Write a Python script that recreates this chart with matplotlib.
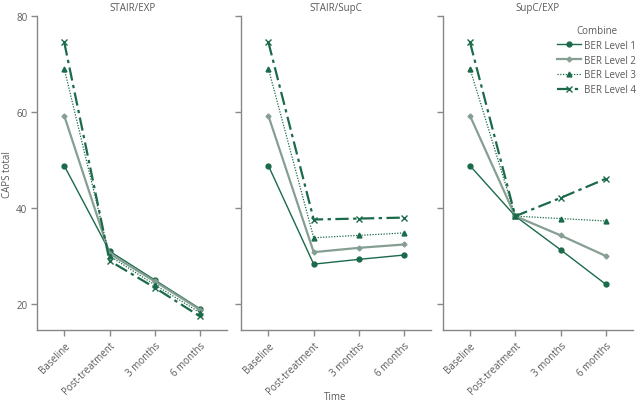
import matplotlib
matplotlib.use("Agg")
import matplotlib.pyplot as plt

plt.rcParams["font.family"] = ["Open Sans", "DejaVu Sans"]

# data
panels = ["STAIR/EXP", "STAIR/SupC", "SupC/EXP"]
times = ["Baseline", "Post-treatment", "3 months", "6 months"]
levels = ["BER Level 1", "BER Level 2", "BER Level 3", "BER Level 4"]

stair_exp = [
    [48.8, 31.0, 25.0, 19.0],
    [59.2, 30.5, 24.7, 18.8],
    [69.0, 30.0, 24.0, 18.2],
    [74.5, 29.0, 23.4, 17.4],
]
stair_supc = [
    [48.8, 28.3, 29.3, 30.2],
    [59.2, 30.8, 31.7, 32.4],
    [69.0, 33.8, 34.3, 34.8],
    [74.5, 37.6, 37.8, 38.0],
]
supc_exp = [
    [48.8, 38.3, 31.3, 24.1],
    [59.2, 38.3, 34.3, 30.0],
    [69.0, 38.3, 37.8, 37.3],
    [74.5, 38.3, 42.1, 46.1],
]
all_data = [stair_exp, stair_supc, supc_exp]

# styles
dark = "#1b6a4a"
light = "#869f93"
txt = "#5a5a5a"
styles = [
    dict(color=dark, ls="-", lw=1.0, marker="o", ms=3.5),
    dict(color=light, ls="-", lw=1.6, marker="D", ms=2.5),
    dict(color=dark, ls=(0, (1, 1.2)), lw=0.9, marker="^", ms=3.5),
    dict(color=dark, ls=(0, (6, 2, 1.5, 2)), lw=1.6, marker="x", ms=4.5, mew=1.0),
]

fig = plt.figure(figsize=(6.4, 4.06), dpi=100)
lefts = [0.058, 0.377, 0.692]
width = 0.297
axes = []
for i, name in enumerate(panels):
    ax = fig.add_axes([lefts[i], 0.185, width, 0.773])
    x = list(range(len(times)))
    for j, lev in enumerate(levels):
        ax.plot(x, all_data[i][j], label=lev, **styles[j])
    ax.set_xlim(-0.6, 3.6)
    ax.set_ylim(14.6, 80)
    ax.set_yticks([20, 40, 60, 80])
    ax.set_xticks(x)
    ax.set_xticklabels(times, rotation=45, ha="right", rotation_mode="anchor",
                       fontsize=7, color=txt)
    ax.set_title(name, fontsize=7, color=txt, pad=4)
    for s in ["top", "right"]:
        ax.spines[s].set_visible(False)
    for s in ["left", "bottom"]:
        ax.spines[s].set_color("#888888")
        ax.spines[s].set_linewidth(1.0)
    ax.tick_params(colors="#888888", labelcolor=txt, labelsize=7,
                   length=4, width=1.0, pad=3)
    if i > 0:
        ax.tick_params(axis="y", labelleft=False)
    axes.append(ax)

fig.text(0.012, 0.57, "CAPS total", rotation=90, fontsize=7, color=txt,
         ha="center", va="center")
fig.text(0.523, 0.008, "Time", fontsize=7, color=txt, ha="center", va="bottom")

leg = axes[2].legend(title="Combine", loc="upper right", bbox_to_anchor=(1.06, 1.0),
                     frameon=False, fontsize=7, title_fontsize=7,
                     handlelength=2.4, handletextpad=0.3, labelspacing=0.4)
for t in leg.get_texts():
    t.set_color(txt)
leg.get_title().set_color(txt)

fig.savefig("out.png", dpi=100)
